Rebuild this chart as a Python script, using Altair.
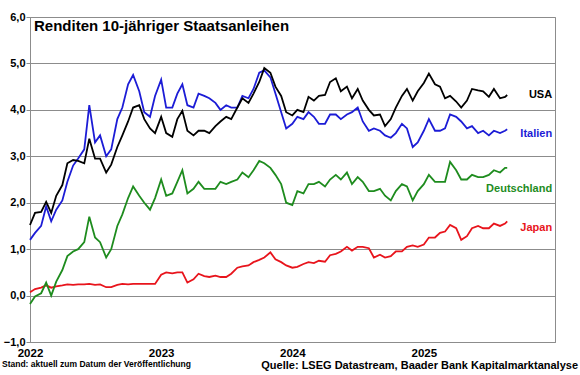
import altair as alt
import pandas as pd

# semi-monthly observation dates (1st and 15th), Jan 2022 - Aug 2025, plus last day
dates = [f"{y}-{m:02d}-{d:02d}" for y in range(2022, 2026) for m in range(1, 13) for d in (1, 15)
         if not (y == 2025 and m > 8)] + ["2025-08-21"]

usa = [1.52, 1.78, 1.80, 2.02, 1.78, 2.15, 2.38, 2.85, 2.92, 2.90, 2.85, 3.38, 2.95, 2.95, 2.65, 2.82, 3.20, 3.45, 3.75, 4.05, 4.10, 3.80, 3.60, 3.50,
       3.85, 3.50, 3.42, 3.80, 3.98, 3.55, 3.45, 3.55, 3.55, 3.50, 3.65, 3.75, 3.85, 3.80, 4.05, 4.25, 4.15, 4.35, 4.60, 4.90, 4.80, 4.50, 4.30, 3.95,
       3.88, 4.00, 3.95, 4.28, 4.20, 4.30, 4.32, 4.60, 4.68, 4.40, 4.50, 4.25, 4.45, 4.20, 4.00, 3.88, 3.90, 3.65, 3.80, 4.05, 4.30, 4.45, 4.20, 4.40,
       4.58, 4.78, 4.55, 4.50, 4.25, 4.30, 4.18, 4.05, 4.20, 4.45, 4.42, 4.40, 4.28, 4.45, 4.25, 4.28, 4.32]
italien = [1.20, 1.35, 1.50, 1.92, 1.60, 1.85, 2.05, 2.45, 2.80, 2.95, 3.15, 4.10, 3.30, 3.45, 3.00, 3.15, 3.80, 4.05, 4.55, 4.75, 4.40, 3.95, 3.85, 4.30,
           4.65, 4.05, 4.05, 4.35, 4.55, 4.10, 4.05, 4.35, 4.30, 4.25, 4.15, 4.00, 4.10, 4.05, 4.05, 4.30, 4.25, 4.45, 4.80, 4.85, 4.70, 4.35, 3.95, 3.60,
           3.70, 3.85, 3.80, 3.95, 3.85, 3.70, 3.70, 3.90, 3.90, 3.80, 3.90, 3.95, 4.05, 3.75, 3.55, 3.60, 3.55, 3.45, 3.40, 3.50, 3.70, 3.60, 3.20, 3.30,
           3.55, 3.80, 3.55, 3.55, 3.60, 3.90, 3.85, 3.75, 3.60, 3.65, 3.50, 3.55, 3.45, 3.55, 3.50, 3.55, 3.58]
deutschland = [-0.18, -0.02, 0.05, 0.28, 0.00, 0.30, 0.55, 0.85, 0.95, 1.00, 1.15, 1.70, 1.25, 1.15, 0.82, 1.00, 1.50, 1.75, 2.10, 2.35, 2.15, 2.00, 1.85, 2.10,
               2.50, 2.15, 2.20, 2.45, 2.70, 2.20, 2.30, 2.45, 2.30, 2.30, 2.30, 2.45, 2.40, 2.45, 2.50, 2.65, 2.55, 2.70, 2.90, 2.85, 2.75, 2.60, 2.40, 2.00,
               1.95, 2.25, 2.20, 2.40, 2.40, 2.45, 2.35, 2.50, 2.60, 2.50, 2.65, 2.40, 2.55, 2.45, 2.25, 2.25, 2.30, 2.15, 2.05, 2.25, 2.40, 2.35, 2.05, 2.25,
               2.40, 2.60, 2.45, 2.45, 2.45, 2.88, 2.70, 2.50, 2.50, 2.60, 2.55, 2.55, 2.60, 2.70, 2.65, 2.75, 2.75]
japan = [0.07, 0.14, 0.17, 0.22, 0.17, 0.20, 0.22, 0.24, 0.23, 0.24, 0.24, 0.25, 0.23, 0.24, 0.18, 0.18, 0.23, 0.25, 0.24, 0.25, 0.25, 0.25, 0.25, 0.25,
         0.45, 0.50, 0.48, 0.50, 0.50, 0.28, 0.35, 0.47, 0.42, 0.40, 0.43, 0.40, 0.40, 0.47, 0.60, 0.63, 0.65, 0.72, 0.77, 0.82, 0.93, 0.78, 0.72, 0.65,
         0.60, 0.62, 0.68, 0.72, 0.70, 0.75, 0.73, 0.87, 0.90, 0.95, 1.05, 0.97, 1.05, 1.05, 1.02, 0.82, 0.88, 0.82, 0.85, 0.95, 0.95, 1.05, 1.08, 1.05,
         1.10, 1.25, 1.25, 1.35, 1.38, 1.52, 1.45, 1.20, 1.28, 1.45, 1.50, 1.45, 1.45, 1.55, 1.50, 1.55, 1.60]

series_names = ["Japan", "Deutschland", "Italien", "USA"]
series_colors = ["#e8141c", "#1e8c1e", "#1c1cd6", "#000000"]
series_values = [japan, deutschland, italien, usa]

label_y = [1.45, 2.29, 3.49, 4.31]
label_date = "2025-12-24"

y_ticks = [-1, 0, 1, 2, 3, 4, 5, 6]
x_ticks = [2022, 2023, 2024, 2025]

title_text = "Renditen 10-jähriger Staatsanleihen"
note_left = "Stand: aktuell zum Datum der Veröffentlichung"
note_right = "Quelle: LSEG Datastream, Baader Bank Kapitalmarktanalyse"

rows = []
for name, vals in zip(series_names, series_values):
    for d, v in zip(dates, vals):
        rows.append({"date": d, "value": v, "series": name})
df = pd.DataFrame(rows)
lab = pd.DataFrame({"series": series_names, "value": label_y, "date": [label_date] * 4})

FONT = "Liberation Sans"

x_enc = alt.X("date:T", scale=alt.Scale(type="utc", domain=[alt.DateTime(year=2022, month=1, date=1, utc=True),
                                                            alt.DateTime(year=2026, month=1, date=1, utc=True)]),
              axis=alt.Axis(values=[alt.DateTime(year=y, month=1, date=1, utc=True) for y in x_ticks],
                            labelExpr="utcFormat(datum.value, '%Y')", title=None, grid=False,
                            tickSize=0, labelPadding=5, labelFontSize=11.5, labelFontWeight="bold",
                            labelFont=FONT, labelColor="black", domainColor="#8c8c8c", labelFlush=False))
y_enc = alt.Y("value:Q", scale=alt.Scale(domain=[-1, 6], nice=False, zero=False),
              axis=alt.Axis(values=y_ticks, labelExpr="replace(format(datum.value, '.1f'), '.', ',')",
                            title=None, grid=True, gridColor="#8c8c8c", gridWidth=1, tickSize=4,
                            tickColor="#8c8c8c", labelPadding=1, labelFontSize=11, labelFontWeight="bold",
                            labelFont=FONT, labelColor="black", domainColor="#8c8c8c"))

color_scale = alt.Scale(domain=series_names, range=series_colors)

layers = []
for name in series_names:
    layers.append(
        alt.Chart(df).transform_filter(alt.datum.series == name)
        .mark_line(strokeWidth=1.8, interpolate="linear")
        .encode(x=x_enc, y=y_enc, color=alt.Color("series:N", scale=color_scale, legend=None))
    )

labels = alt.Chart(lab).mark_text(align="right", baseline="middle", fontSize=11, fontWeight="bold", font=FONT).encode(
    x=alt.X("date:T"), y=alt.Y("value:Q"), text="series:N",
    color=alt.Color("series:N", scale=color_scale, legend=None))

title = alt.Chart(pd.DataFrame({"t": [title_text]})).mark_text(
    align="left", baseline="alphabetic", fontSize=15, fontWeight="bold", font=FONT, color="black"
).encode(x=alt.value(4), y=alt.value(14), text="t:N")

foot_l = alt.Chart(pd.DataFrame({"t": [note_left]})).mark_text(
    align="left", baseline="alphabetic", fontSize=8.5, fontWeight="bold", font=FONT, color="black"
).encode(x=alt.value(-28), y=alt.value(350), text="t:N")

foot_r = alt.Chart(pd.DataFrame({"t": [note_right]})).mark_text(
    align="right", baseline="alphabetic", fontSize=11, fontWeight="bold", font=FONT, color="black"
).encode(x=alt.value(548), y=alt.value(351.5), text="t:N")

chart = alt.layer(*layers, labels, title, foot_l, foot_r).properties(
    width=525, height=325,
    autosize=alt.AutoSizeParams(type="none"),
    padding={"left": 30, "top": 17, "right": 25, "bottom": 33},
    background="white",
).configure_view(stroke="#8c8c8c", strokeWidth=1)

chart.save("out.html", embed_options={"renderer": "svg", "actions": False})
